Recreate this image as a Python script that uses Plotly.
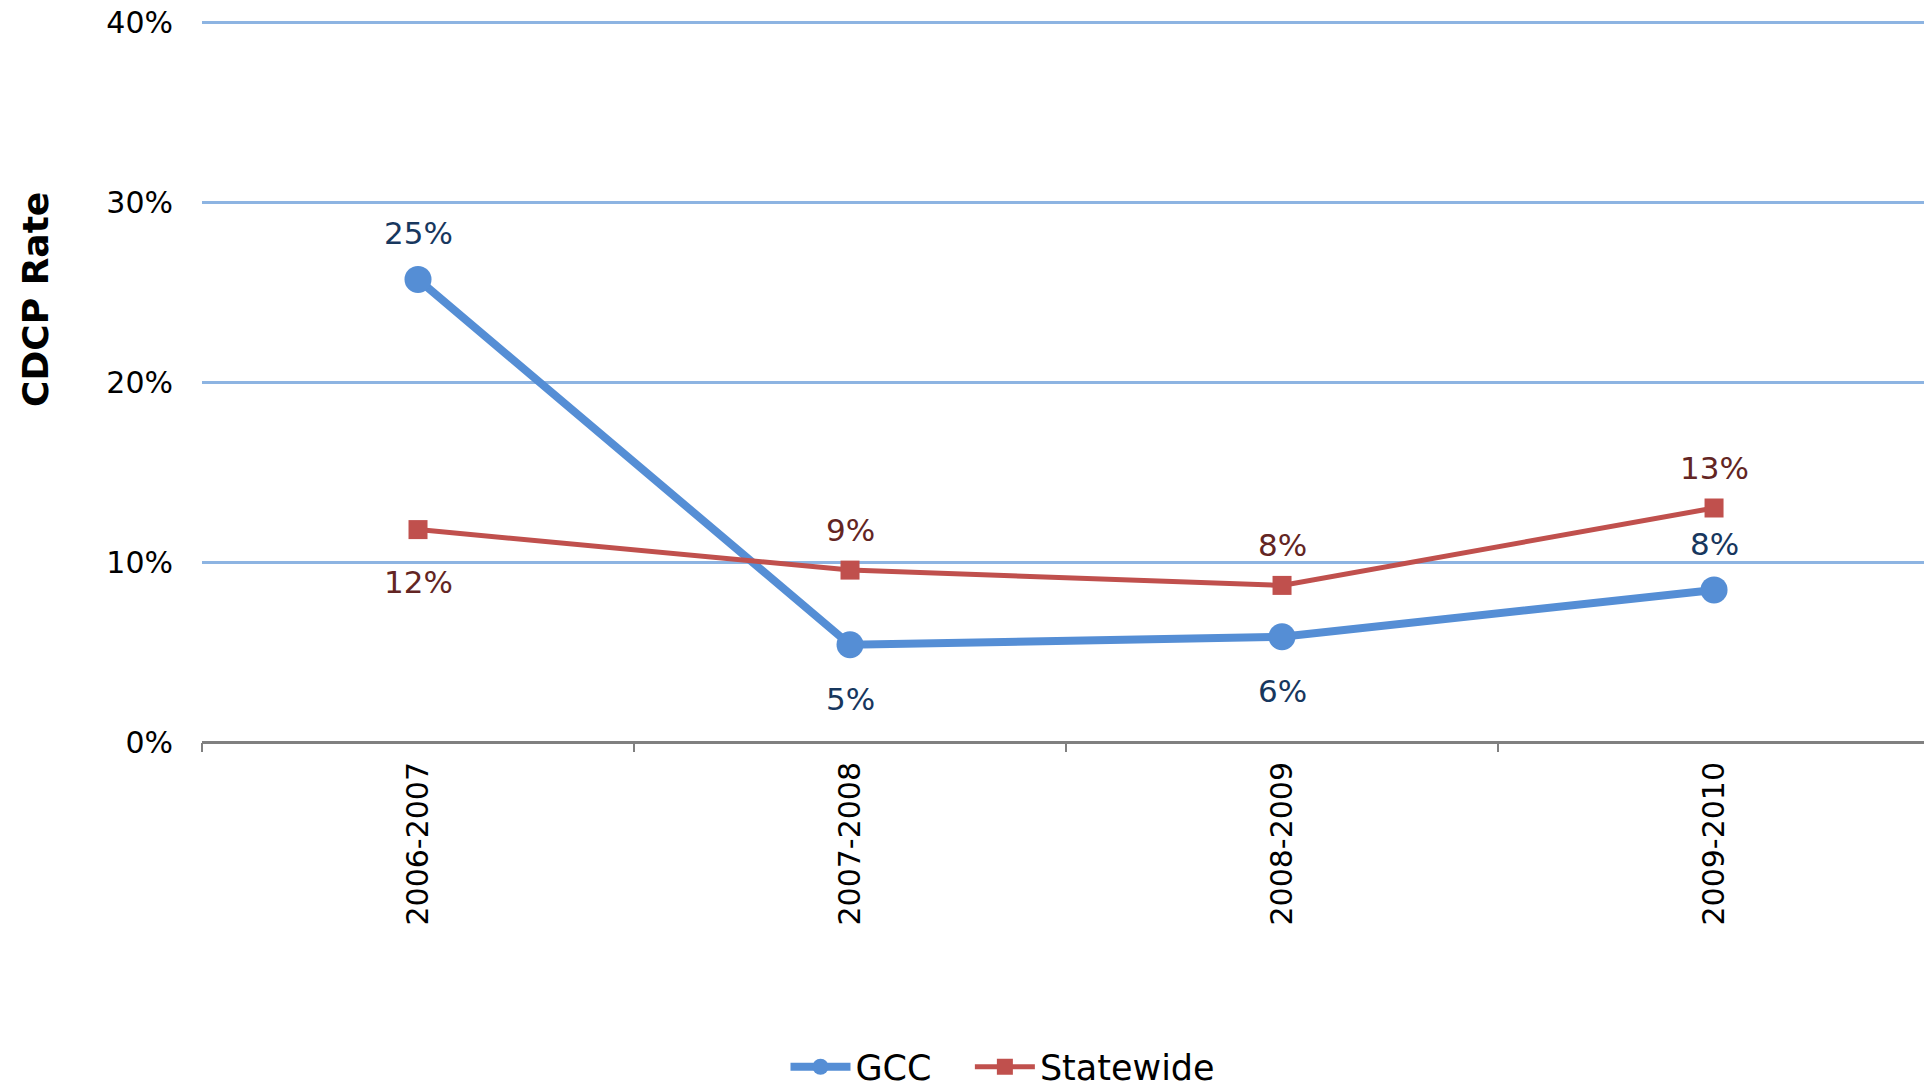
import plotly.graph_objects as go

categories = ["2006-2007", "2007-2008", "2008-2009", "2009-2010"]
gcc_values = [25.7, 5.4, 5.85, 8.45]
statewide_values = [11.8, 9.55, 8.7, 13.0]
gcc_labels = ["25%", "5%", "6%", "8%"]
statewide_labels = ["12%", "9%", "8%", "13%"]
y_ticks = [0, 10, 20, 30, 40]
y_tick_labels = ["0%", "10%", "20%", "30%", "40%"]

# label placement (+1 above, -1 below)
gcc_label_side = [1, -1, -1, 1]
statewide_label_side = [-1, 1, 1, 1]

GCC_COLOR = "#558ED5"
SW_COLOR = "#C0504D"
GCC_TEXT = "#17375E"
SW_TEXT = "#632523"
FONT = "DejaVu Sans"

PLOT_H = 730
TOP = 12

fig = go.Figure()
fig.add_trace(go.Scatter(
    x=categories, y=gcc_values, name="GCC\u00a0\u00a0\u00a0", mode="lines+markers",
    line=dict(color=GCC_COLOR, width=8),
    marker=dict(symbol="circle", size=27, color=GCC_COLOR),
))
fig.add_trace(go.Scatter(
    x=categories, y=statewide_values, name="Statewide", mode="lines+markers",
    line=dict(color=SW_COLOR, width=5),
    marker=dict(symbol="square", size=19, color=SW_COLOR),
))

annotations = []
for c, v, t, s in zip(categories, gcc_values, gcc_labels, gcc_label_side):
    annotations.append(dict(x=c, y=v, text=t, showarrow=False,
                            yshift=46 if s > 0 else -54,
                            font=dict(family=FONT, size=31, color=GCC_TEXT)))
for c, v, t, s in zip(categories, statewide_values, statewide_labels, statewide_label_side):
    annotations.append(dict(x=c, y=v, text=t, showarrow=False,
                            yshift=40 if s > 0 else -52,
                            font=dict(family=FONT, size=31, color=SW_TEXT)))
annotations.append(dict(xref="paper", yref="paper", x=(35 - 202) / 1722,
                        y=(742 - 300) / PLOT_H,
                        text="<b>CDCP Rate</b>", textangle=-90, showarrow=False,
                        xanchor="center", yanchor="middle",
                        font=dict(family=FONT, size=36, color="black")))

fig.update_layout(
    width=1924, height=1087,
    margin=dict(l=202, r=0, t=TOP, b=1087 - TOP - PLOT_H, autoexpand=False),
    plot_bgcolor="white", paper_bgcolor="white",
    font=dict(family=FONT, color="black"),
    showlegend=True,
    legend=dict(orientation="h", x=(1003 - 202) / 1722, xanchor="center",
                y=(742 - 1067) / PLOT_H, yanchor="middle",
                font=dict(family=FONT, size=35, color="black"),
                itemwidth=60, bgcolor="rgba(0,0,0,0)"),
    annotations=annotations,
    xaxis=dict(
        type="category", range=[-0.5, 3.486],
        showgrid=False, zeroline=False,
        showline=False,
        ticks="outside", tickson="boundaries", ticklen=9, tickwidth=2, tickcolor="#808080",
        tickangle=-90, ticklabelstandoff=13,
        tickfont=dict(family=FONT, size=30, color="black"),
        fixedrange=True,
    ),
    yaxis=dict(
        range=[0, PLOT_H / 18.0], tickvals=y_ticks, ticktext=y_tick_labels,
        showgrid=True, gridcolor="#8DB4E2", gridwidth=2.5,
        zeroline=True, zerolinecolor="#808080", zerolinewidth=3,
        showline=False, ticks="", ticklabelstandoff=28,
        tickfont=dict(family=FONT, size=30, color="black"),
        fixedrange=True,
    ),
)

fig.write_html("out.html", config={"displayModeBar": False},
               post_script="document.body.style.margin='0';")
